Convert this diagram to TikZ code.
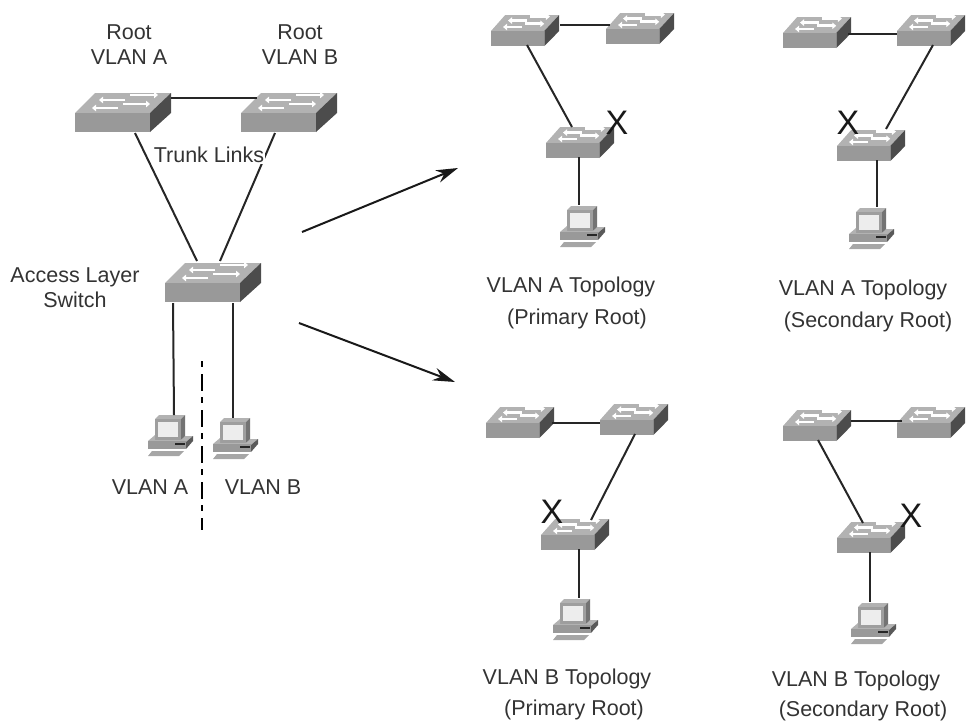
\documentclass[tikz,border=0pt]{standalone}
\usepackage{fontspec}
\setmainfont{Liberation Sans}
\usetikzlibrary{calc,arrows.meta}
\definecolor{swtop}{gray}{0.70}
\definecolor{swfront}{gray}{0.60}
\definecolor{swside}{gray}{0.30}
\tikzset{
 x=1pt,y=-1pt,
 lab/.style={font=\fontsize{21.5}{25}\selectfont,text=black!80,inner sep=0pt,align=center},
 cross/.style={font=\fontsize{34}{34}\selectfont,inner sep=0pt,text=black!90},
 link/.style={draw=black!85,line width=2pt},
 bigarrow/.style={draw=black!90,line width=2pt,-{Stealth[length=22pt,width=13pt]}},
 wa/.style={white,line width=2.7pt,-{Triangle[width=6.5pt,length=4pt]}},
 smallsw/.style={xscale=.71,yscale=.8},
 switchpic/.pic={
  \coordinate (-o) at (0,0);
  \fill[swtop] (0,0)--(20,-20)--(96,-20)--(75,0)--cycle;
  \fill[swfront] (0,0) rectangle (75,19);
  \fill[swside] (75,0)--(96,-20)--(96,0)--(75,19)--cycle;
  \draw[wa] (50,-13)--(24,-13);
  \draw[wa] (55,-18)--(83,-18);
  \draw[wa] (43,-5)--(17,-5);
  \draw[wa] (48,-9)--(75,-9);
 },
 pcpic/.pic={
  \coordinate (-o) at (0,0);
  \fill[black!30] (0,0)--(4,-4)--(30,-4)--(26,0)--cycle;
  \fill[black!55] (26,0)--(30,-4)--(30,18)--(26,21)--cycle;
  \fill[black!38] (0,0) rectangle (26,21);
  \fill[black!7] (3,3) rectangle (23,18);
  \fill[black!30] (-7,22)--(0,16)--(0,21)--(26,21)--(30,17)--(38,17)--(31,23)--cycle;
  \fill[black!40] (-7,22) rectangle (31,30);
  \fill[black!65] (31,23)--(38,17)--(38,22)--(31,30)--cycle;
  \fill[black!85] (20,24) rectangle (30,25.5);
  \fill[black!35] (-7,37)--(-3,32)--(29,32)--(24,37)--cycle;
 }
}
\begin{document}
\begin{tikzpicture}
\useasboundingbox (0,0) rectangle (966,721);
% left diagram
\pic (a) at (75,113) {switchpic};
\pic (b) at (241,113) {switchpic};
\pic (c) at (165,283) {switchpic};
\pic (p1) at (155,419) {pcpic};
\pic (p2) at (220,422) {pcpic};
\draw[link] ($(a-o)+(96,-15)$) -- ($(b-o)+(16,-15)$);
\draw[link] ($(a-o)+(60,20)$) -- ($(c-o)+(32,-22)$);
\draw[link] ($(b-o)+(34,20)$) -- ($(c-o)+(55,-22)$);
\draw[link] ($(c-o)+(8,20)$) -- ($(p1-o)+(19,-4)$);
\draw[link] ($(c-o)+(68,20)$) -- ($(p2-o)+(13,-4)$);
\coordinate (d1) at (202,361);
\coordinate (d2) at (202,530);
\draw[line width=2.6pt,dash pattern=on 6pt off 7pt on 17pt off 6pt] (d1) -- (d2);
\coordinate (e1) at (302,232);
\coordinate (e2) at (458,168);
\coordinate (f1) at (299,323);
\coordinate (f2) at (455,382);
\draw[bigarrow] (e1) -- (e2);
\draw[bigarrow] (f1) -- (f2);
\node[lab] (t1) at (129,45) {Root\\VLAN A};
\node[lab] (t2) at (300,45) {Root\\VLAN B};
\node[lab,fill=white,inner sep=1pt] (t3) at (209,155) {Trunk Links};
\node[lab] (t4) at (75,288) {Access Layer\\Switch};
\node[lab] (t5) at (150,487) {VLAN A};
\node[lab] (t6) at (263,487) {VLAN B};
% four small diagrams
\pic[smallsw] (s1) at (491,31) {switchpic};
\pic[smallsw] (s2) at (606,29) {switchpic};
\pic[smallsw] (s3) at (546,143) {switchpic};
\pic[smallsw] (s4) at (783,33) {switchpic};
\pic[smallsw] (s5) at (897,31) {switchpic};
\pic[smallsw] (s6) at (837,146) {switchpic};
\pic[smallsw] (s7) at (486,423) {switchpic};
\pic[smallsw] (s8) at (600,420) {switchpic};
\pic[smallsw] (s9) at (541,535) {switchpic};
\pic[smallsw] (s10) at (783,426) {switchpic};
\pic[smallsw] (s11) at (897,423) {switchpic};
\pic[smallsw] (s12) at (837,538) {switchpic};
\pic (q1) at (567,210) {pcpic};
\pic (q2) at (856,212) {pcpic};
\pic (q3) at (560,603) {pcpic};
\pic (q4) at (858,607) {pcpic};
% group 1
\draw[link] ($(s1-o)+(69,-6)$) -- ($(s2-o)+(4,-4)$);
\draw[link] ($(s1-o)+(36,14)$) -- ($(s3-o)+(26,-16)$);
\draw[link] ($(s3-o)+(33,14)$) -- ($(q1-o)+(12,-5)$);
% group 2
\draw[link,line width=1.6pt] ($(s4-o)+(65,1)$) -- ($(s5-o)+(0,3)$);
\draw[link] ($(s5-o)+(36,14)$) -- ($(s6-o)+(49,-17)$);
\draw[link] ($(s6-o)+(40,14)$) -- ($(q2-o)+(21,-5)$);
% group 3
\draw[link] ($(s7-o)+(66,0)$) -- ($(s8-o)+(0,3)$);
\draw[link] ($(s8-o)+(35,14)$) -- ($(s9-o)+(50,-15)$);
\draw[link] ($(s9-o)+(38,14)$) -- ($(q3-o)+(19,-5)$);
% group 4
\draw[link] ($(s10-o)+(68,-5)$) -- ($(s11-o)+(5,-2)$);
\draw[link] ($(s10-o)+(35,14)$) -- ($(s12-o)+(26,-15)$);
\draw[link] ($(s12-o)+(33,14)$) -- ($(q4-o)+(12,-5)$);
% crosses
\node[cross] (x1) at (617,123) {X};
\node[cross] (x2) at (848,123) {X};
\node[cross] (x3) at (552,512) {X};
\node[cross] (x4) at (911,516) {X};
% labels
\node[lab] (l1) at (571,287) {VLAN A Topology};
\node[lab] (l2) at (577,319) {(Primary Root)};
\node[lab] (l3) at (863,290) {VLAN A Topology};
\node[lab] (l4) at (868,322) {(Secondary Root)};
\node[lab] (l5) at (567,679) {VLAN B Topology};
\node[lab] (l6) at (574,710) {(Primary Root)};
\node[lab] (l7) at (856,681) {VLAN B Topology};
\node[lab] (l8) at (863,711) {(Secondary Root)};
\end{tikzpicture}
\end{document}
